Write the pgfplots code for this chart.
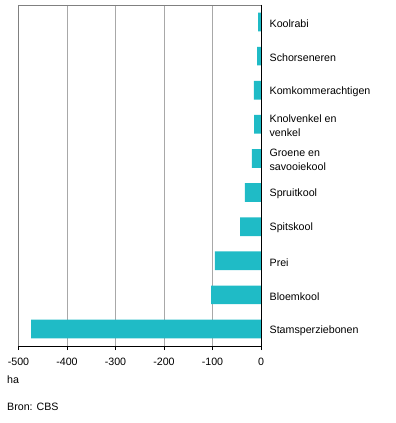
\documentclass[border=0pt]{standalone}
\usepackage{pgfplots}
\pgfplotsset{compat=1.18}
\usepackage{fontspec}
\setmainfont{Liberation Sans}
\definecolor{barc}{RGB}{31,187,198}
\definecolor{gridc}{RGB}{168,168,168}
\definecolor{framec}{RGB}{128,128,128}
\begin{document}
\fontsize{10.7}{14.5}\selectfont
\begin{tikzpicture}
\useasboundingbox (0,0) rectangle (396bp,423bp);
\begin{axis}[
  at={(18.5bp,77bp)}, anchor=south west,
  scale only axis, width=242.5bp, height=341bp,
  xmin=-500, xmax=0, ymin=-0.5, ymax=9.5,
  y dir=reverse,
  xbar, bar width=18.7bp,
  axis x line*=bottom, axis y line*=right,
  xtick={-500,-400,-300,-200,-100,0},
  xticklabels={-500,-400,-300,-200,-100,0},
  tick align=outside, major tick length=4bp,
  x axis line style={black, line width=0.8bp},
  y axis line style={black, line width=0.8bp},
  xtick style={black, line width=0.8bp},
  ytick style={draw=none},
  xmajorgrids, major grid style={gridc, line width=0.8bp},
  xticklabel style={font=\fontsize{10.7}{13}\selectfont, yshift=-4bp},
  ytick={0,...,9},
  yticklabels={Koolrabi,Schorseneren,Komkommerachtigen,{Knolvenkel en\\venkel},{Groene en\\savooiekool},Spruitkool,Spitskool,Prei,Bloemkool,Stamsperziebonen},
  y tick label style={font=\fontsize{10.7}{14.5}\selectfont, align=left, anchor=west, xshift=0.9bp, yshift=-1.5bp},
  clip=false,
]
\addplot[fill=barc, draw=none] coordinates {
(-6,0) (-8,1) (-14.5,2) (-14,3) (-19,4) (-33,5) (-43,6) (-95,7) (-103,8) (-474,9)
};
\draw[framec, line width=0.8bp] (axis cs:-500,9.5) -- (axis cs:-500,-0.5) -- (axis cs:0,-0.5);
\draw[black, line width=0.8bp] (axis cs:0,-0.5) -- (axis cs:0,9.5);
\end{axis}
\node[anchor=west, inner sep=0pt, font=\fontsize{10.7}{13}\selectfont] at (7bp,43bp) {ha};
\node[anchor=west, inner sep=0pt, font=\fontsize{10.7}{13}\selectfont] at (7bp,16bp) {Bron: CBS};
\end{tikzpicture}
\end{document}
